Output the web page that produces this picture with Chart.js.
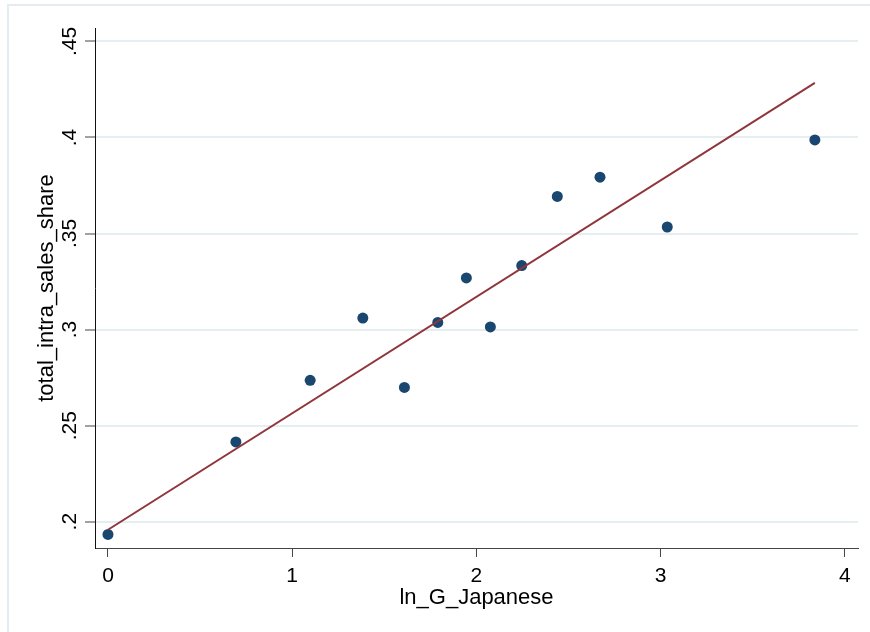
<!DOCTYPE html>
<html>
<head>
<meta charset="utf-8">
<script src="https://cdn.jsdelivr.net/npm/chart.js@4.4.1/dist/chart.umd.min.js"></script>
<style>
  html, body { margin: 0; padding: 0; background: #ffffff; }
  #wrap { width: 870px; height: 632px; }
</style>
</head>
<body>
<div id="wrap"><canvas id="c" width="870" height="632"></canvas></div>
<script>
// ---- Data ----
const lnG = [0, 0.6945, 1.0977, 1.3836, 1.6093, 1.7905, 1.9457, 2.0760, 2.2464, 2.4395, 2.6712, 3.0364, 3.8378];
const share = [0.1934, 0.2415, 0.2736, 0.3060, 0.2699, 0.3037, 0.3269, 0.3014, 0.3333, 0.3693, 0.3793, 0.3534, 0.3987];
const fitX = [0, 3.8378];
const fitY = [0.1958, 0.4284];
const xTicks = [0, 1, 2, 3, 4];
const xTickLabels = ['0', '1', '2', '3', '4'];
const yTicks = [0.2, 0.25, 0.3, 0.35, 0.4, 0.45];
const yTickLabels = ['.2', '.25', '.3', '.35', '.4', '.45'];
const xTitle = 'ln_G_Japanese';
const yTitle = 'total_intra_sales_share';

const FONT = '"Liberation Sans", Arial, Helvetica, sans-serif';

const scatterPts = lnG.map((x, i) => ({ x: x, y: share[i] }));
const fitPts = fitX.map((x, i) => ({ x: x, y: fitY[i] }));

const textPlugin = {
  id: 'stataText',
  beforeDraw(chart) {
    const ctx = chart.ctx;
    ctx.save();
    ctx.fillStyle = '#ffffff';
    ctx.fillRect(0, 0, chart.width, chart.height);
    ctx.strokeStyle = '#e4ecf0';
    ctx.lineWidth = 2;
    ctx.beginPath();
    ctx.moveTo(8, 632);
    ctx.lineTo(8, 5);
    ctx.lineTo(870, 5);
    ctx.stroke();
    ctx.restore();
  },
  afterDraw(chart) {
    const ctx = chart.ctx;
    const xs = chart.scales.x, ys = chart.scales.y;
    const area = chart.chartArea;
    ctx.save();
    ctx.fillStyle = '#000000';
    // x tick labels
    ctx.font = '21px ' + FONT;
    ctx.textAlign = 'center';
    ctx.textBaseline = 'alphabetic';
    xTicks.forEach((v, i) => {
      ctx.fillText(xTickLabels[i], xs.getPixelForValue(v), 582);
    });
    // y tick labels (rotated)
    yTicks.forEach((v, i) => {
      ctx.save();
      ctx.translate(76, ys.getPixelForValue(v));
      ctx.rotate(-Math.PI / 2);
      ctx.textAlign = 'center';
      ctx.textBaseline = 'alphabetic';
      ctx.fillText(yTickLabels[i], 0, 0);
      ctx.restore();
    });
    // axis titles
    ctx.font = '22px ' + FONT;
    ctx.textAlign = 'center';
    ctx.fillText(xTitle, (area.left + area.right) / 2, 604);
    ctx.save();
    ctx.translate(53, (area.top + area.bottom) / 2);
    ctx.rotate(-Math.PI / 2);
    ctx.fillText(yTitle, 0, 0);
    ctx.restore();
    ctx.restore();
  }
};

new Chart(document.getElementById('c'), {
  type: 'scatter',
  data: {
    datasets: [
      {
        type: 'line',
        label: 'Fitted values',
        data: fitPts,
        borderColor: '#90353b',
        borderWidth: 2,
        pointRadius: 0,
        fill: false,
        tension: 0,
        order: 0
      },
      {
        type: 'scatter',
        label: 'total_intra_sales_share',
        data: scatterPts,
        backgroundColor: '#1a476f',
        borderColor: '#1a476f',
        borderWidth: 0,
        pointRadius: 5.5,
        pointHoverRadius: 5.5,
        order: 1
      }
    ]
  },
  options: {
    responsive: false,
    devicePixelRatio: 1,
    animation: false,
    events: [],
    layout: { padding: { left: 0, top: 28, right: 12, bottom: 0 } },
    plugins: { legend: { display: false }, tooltip: { enabled: false }, title: { display: false } },
    scales: {
      x: {
        type: 'linear',
        min: -0.0705,
        max: 4.072,
        afterBuildTicks(scale) { scale.ticks = xTicks.map(v => ({ value: v })); },
        afterFit(scale) { scale.height = 84; },
        ticks: { display: false },
        grid: { drawOnChartArea: false, drawTicks: true, tickLength: 9, tickColor: '#444444', tickWidth: 1 },
        border: { display: true, color: '#444444', width: 1 },
        title: { display: false }
      },
      y: {
        type: 'linear',
        min: 0.18631,
        max: 0.45698,
        afterBuildTicks(scale) { scale.ticks = yTicks.map(v => ({ value: v })); },
        afterFit(scale) { scale.width = 95; },
        ticks: { display: false },
        grid: { drawOnChartArea: true, color: '#e6eef1', lineWidth: 2, drawTicks: true, tickLength: 10, tickColor: '#444444', tickWidth: 1 },
        border: { display: true, color: '#111111', width: 1 },
        title: { display: false }
      }
    }
  },
  plugins: [textPlugin]
});
</script>
</body>
</html>
